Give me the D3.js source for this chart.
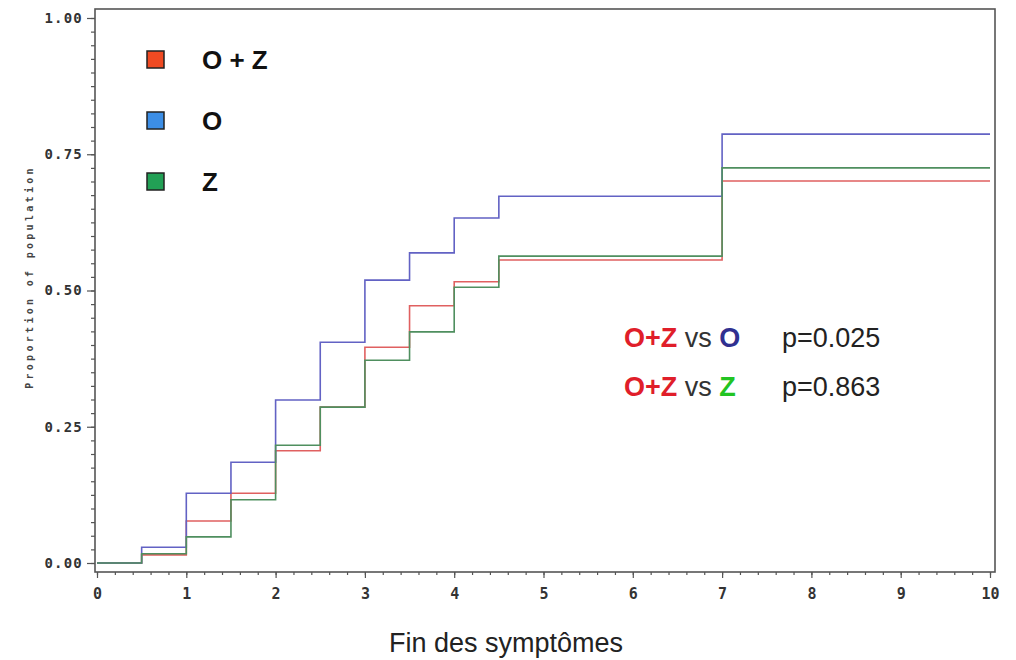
<!DOCTYPE html>
<html>
<head>
  <meta charset="UTF-8">
  <title>Fin des symptomes</title>
  <style>
    body { margin: 0; background: #fff; }
  </style>
</head>
<body>
  <div class="svg-zone"></div>
  <script src="https://cdn.jsdelivr.net/npm/d3@7"></script>
  <script type="text/javascript">
  // temps (jours) et proportions
  const times = [0, 0.5, 1, 1.5, 2, 2.5, 3, 3.5, 4, 4.5, 7, 10];
  const ozValues = [0, 0.015, 0.077, 0.128, 0.206, 0.286, 0.396, 0.472, 0.516, 0.556, 0.701, 0.701];
  const oValues = [0, 0.029, 0.128, 0.185, 0.299, 0.405, 0.519, 0.569, 0.633, 0.673, 0.787, 0.787];
  const zValues = [0, 0.017, 0.048, 0.116, 0.216, 0.286, 0.372, 0.424, 0.506, 0.563, 0.725, 0.725];

  const seriesNames = ["O + Z", "O", "Z"];
  const xTicks = [0, 1, 2, 3, 4, 5, 6, 7, 8, 9, 10];
  const yTicks = [0, 0.25, 0.5, 0.75, 1];

  var width = 1016,
    height = 660;

  var svg = d3.select(".svg-zone").append("svg")
    .attr("width", width)
    .attr("height", height);

  var x = d3.scaleLinear().domain([0, 10]).range([97, 990]);
  var y = d3.scaleLinear().domain([0, 1]).range([563, 18]);

  var lineColors = ["#e06060", "#6262c4", "#4f8f5f"];
  var boxColors = ["#f04a22", "#3c8ee6", "#22a055"];
  var allValues = [ozValues, oValues, zValues];

  // cadre
  svg.append("rect")
    .attr("x", 95).attr("y", 9)
    .attr("width", 900).attr("height", 563)
    .attr("fill", "none")
    .attr("stroke", "#555")
    .attr("stroke-width", 1.6);

  // axe x
  var xAxis = d3.axisBottom(x).tickValues(xTicks).tickSize(6).tickFormat(d3.format("d"));
  var xMinor = d3.axisBottom(x).tickValues(d3.range(0, 10.01, 0.2)).tickSize(3).tickFormat("");
  svg.append("g").attr("class", "axis").attr("transform", "translate(0,572)").call(xMinor);
  var gx = svg.append("g").attr("class", "axis").attr("transform", "translate(0,572)").call(xAxis);
  gx.selectAll("text")
    .attr("y", 16)
    .style("font-family", "'DejaVu Sans Mono', monospace")
    .style("font-weight", "bold")
    .style("font-size", "15px")
    .style("fill", "#333");

  // axe y
  var yAxis = d3.axisLeft(y).tickValues(yTicks).tickSize(8).tickFormat(d3.format(".2f"));
  var yMinor = d3.axisLeft(y).tickValues(d3.range(0, 1.001, 0.025)).tickSize(4).tickFormat("");
  svg.append("g").attr("class", "axis").attr("transform", "translate(95,0)").call(yMinor);
  var gy = svg.append("g").attr("class", "axis").attr("transform", "translate(95,0)").call(yAxis);
  gy.selectAll("text")
    .attr("x", -12)
    .style("font-family", "'DejaVu Sans Mono', monospace")
    .style("font-weight", "bold")
    .style("font-size", "14px")
    .style("letter-spacing", "1.2px")
    .style("fill", "#333");

  svg.selectAll(".axis .domain").remove();
  svg.selectAll(".axis line").attr("stroke", "#555").attr("stroke-width", 1.2);

  // courbes en escalier
  var line = d3.line()
    .x(function (d) { return x(d[0]); })
    .y(function (d) { return y(d[1]); })
    .curve(d3.curveStepAfter);

  allValues.forEach(function (vals, i) {
    svg.append("path")
      .datum(times.map(function (t, j) { return [t, vals[j]]; }))
      .attr("fill", "none")
      .attr("stroke", lineColors[i])
      .attr("stroke-width", 1.6)
      .attr("d", line);
  });

  // légende
  var legendY = [60, 121, 182];
  seriesNames.forEach(function (name, i) {
    svg.append("rect")
      .attr("x", 147).attr("y", legendY[i] - 9)
      .attr("width", 17).attr("height", 17)
      .attr("fill", boxColors[i])
      .attr("stroke", "#222")
      .attr("stroke-width", 1.5);
    svg.append("text")
      .attr("x", 202).attr("y", legendY[i] + 9)
      .style("font-family", "'Liberation Sans', Arial, sans-serif")
      .style("font-weight", "bold")
      .style("font-size", "26px")
      .style("fill", "#111")
      .text(name);
  });

  // titres
  svg.append("text")
    .attr("transform", "translate(33,277) rotate(-90)")
    .attr("text-anchor", "middle")
    .style("font-family", "'DejaVu Sans Mono', monospace")
    .style("font-weight", "bold")
    .style("font-size", "10px")
    .style("letter-spacing", "3.3px")
    .style("fill", "#444")
    .text("Proportion of population");

  svg.append("text")
    .attr("x", 506).attr("y", 652)
    .attr("text-anchor", "middle")
    .style("font-family", "'Liberation Sans', Arial, sans-serif")
    .style("font-size", "27px")
    .style("fill", "#222")
    .text("Fin des symptômes");

  // tests
  var tests = [
    { other: "O", otherColor: "#303090", p: "p=0.025", y: 347 },
    { other: "Z", otherColor: "#22c422", p: "p=0.863", y: 396 }
  ];
  tests.forEach(function (t) {
    var txt = svg.append("text")
      .attr("x", 624).attr("y", t.y)
      .style("font-family", "'Liberation Sans', Arial, sans-serif")
      .style("font-size", "27px");
    txt.append("tspan").style("font-weight", "bold").style("fill", "#e01e2a").text("O+Z");
    txt.append("tspan").style("fill", "#333").text(" vs ");
    txt.append("tspan").style("font-weight", "bold").style("fill", t.otherColor).text(t.other);
    svg.append("text")
      .attr("x", 782).attr("y", t.y)
      .style("font-family", "'Liberation Sans', Arial, sans-serif")
      .style("font-size", "27px")
      .style("fill", "#222")
      .text(t.p);
  });
  </script>
</body>
</html>
